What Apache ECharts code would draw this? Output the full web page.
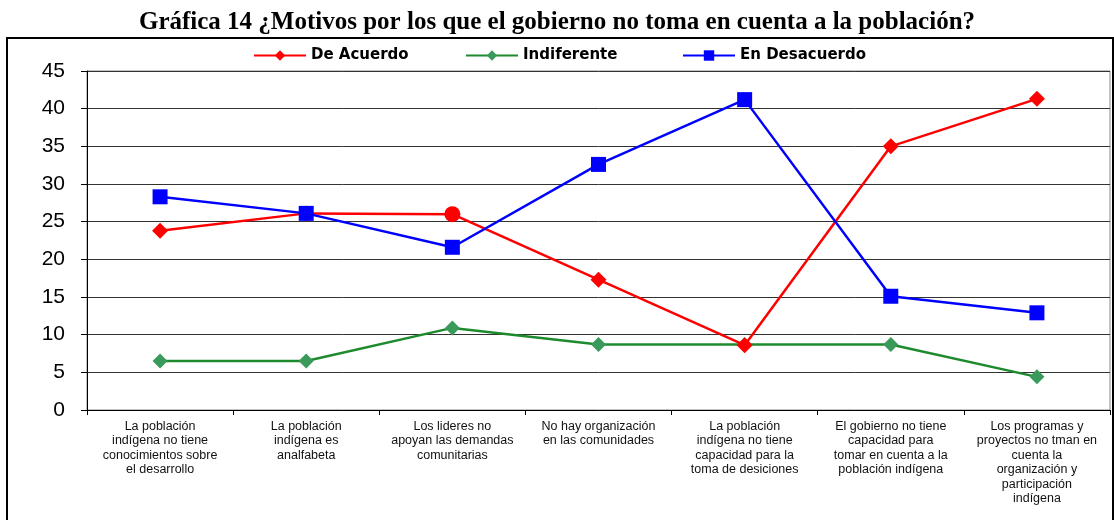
<!DOCTYPE html>
<html>
<head>
<meta charset="utf-8">
<script src="https://cdn.jsdelivr.net/npm/echarts@6/dist/echarts.min.js"></script>
<style>
  html, body { margin: 0; padding: 0; background: #fff; }
  #chart { width: 1114px; height: 520px; }
</style>
</head>
<body>
<div id="chart"></div>
<script>
// categorías (eje X)
const categorias = [
    'La población\nindígena no tiene\nconocimientos sobre\nel desarrollo',
    'La población\nindígena es\nanalfabeta',
    'Los lideres no\napoyan las demandas\ncomunitarias',
    'No hay organización\nen las comunidades',
    'La población\nindígena no tiene\ncapacidad para la\ntoma de desiciones',
    'El gobierno no tiene\ncapacidad para\ntomar en cuenta a la\npoblación indígena',
    'Los programas y\nproyectos no tman en\ncuenta la\norganización y\nparticipación\nindígena'
];

const deAcuerdo = [23.8, 26.1, 26.0, 17.3, 8.6, 35.0, 41.3];
const indiferente = [6.5, 6.5, 10.9, 8.7, 8.7, 8.7, 4.4];
const enDesacuerdo = [28.3, 26.1, 21.6, 32.6, 41.2, 15.1, 12.9];

const yTicks = { min: 0, max: 45, interval: 5 };

const chart = echarts.init(document.getElementById('chart'));

const legendText = {
    fontFamily: '"DejaVu Sans", Verdana, sans-serif',
    fontSize: 15,
    fontWeight: 'bold',
    color: '#000'
};
// una leyenda por serie para colocarlas como en la imagen
const leyenda = (nombre, x) => ({
    top: 43,
    left: x,
    itemWidth: 52,
    itemHeight: 13,
    textStyle: legendText,
    data: [nombre]
});

const option = {
    animation: false,
    title: {
        text: 'Gráfica 14 ¿Motivos por los que el gobierno no toma en cuenta a la población?',
        left: 'center',
        top: 5,
        textStyle: {
            fontFamily: '"Liberation Serif", "Times New Roman", serif',
            fontSize: 25,
            fontWeight: 'bold',
            color: '#000'
        }
    },
    graphic: [{
        type: 'rect',
        shape: { x: 7, y: 38, width: 1106, height: 500 },
        style: { fill: 'none', stroke: '#000', lineWidth: 2 },
        silent: true,
        z: -1
    }],
    legend: [
        leyenda('De Acuerdo', 248),
        leyenda('Indiferente', 460),
        leyenda('En Desacuerdo', 677)
    ],
    grid: {
        left: 87,
        right: 4,
        top: 71,
        bottom: 110,
        show: true,
        borderColor: '#888',
        borderWidth: 1
    },
    xAxis: {
        type: 'category',
        data: categorias,
        boundaryGap: true,
        axisLine: { lineStyle: { color: '#000', width: 1 } },
        axisTick: { show: true, alignWithLabel: false, length: 5, lineStyle: { color: '#000' } },
        axisLabel: {
            interval: 0,
            margin: 9,
            fontFamily: '"Liberation Sans", Arial, sans-serif',
            fontSize: 12.5,
            lineHeight: 14.5,
            color: '#111',
            align: 'center'
        }
    },
    yAxis: {
        type: 'value',
        min: yTicks.min,
        max: yTicks.max,
        interval: yTicks.interval,
        axisLine: { show: true, lineStyle: { color: '#000', width: 1 } },
        axisTick: { show: true, length: 6, lineStyle: { color: '#000' } },
        axisLabel: {
            margin: 22,
            fontFamily: '"Liberation Sans", Arial, sans-serif',
            fontSize: 21,
            color: '#000'
        },
        splitLine: { lineStyle: { color: '#333', width: 1 } }
    },
    series: [
        {
            name: 'De Acuerdo',
            type: 'line',
            data: deAcuerdo.map((v, i) => i === 2 ? { value: v, symbol: 'circle', symbolSize: 16 } : v),
            symbol: 'diamond',
            symbolSize: 16,
            color: '#ff0000',
            lineStyle: { width: 2.5, color: '#ff0000' },
            itemStyle: { color: '#ff0000' },
            z: 3
        },
        {
            name: 'Indiferente',
            type: 'line',
            data: indiferente,
            symbol: 'diamond',
            symbolSize: 15,
            color: '#3a9a5c',
            lineStyle: { width: 2.5, color: '#1e8a2e' },
            itemStyle: { color: '#3a9a5c' },
            z: 2
        },
        {
            name: 'En Desacuerdo',
            type: 'line',
            data: enDesacuerdo,
            symbol: 'rect',
            symbolSize: 15,
            color: '#0000ff',
            lineStyle: { width: 2.5, color: '#0000ff' },
            itemStyle: { color: '#0000ff' },
            z: 4
        }
    ]
};

chart.setOption(option);
</script>
</body>
</html>
